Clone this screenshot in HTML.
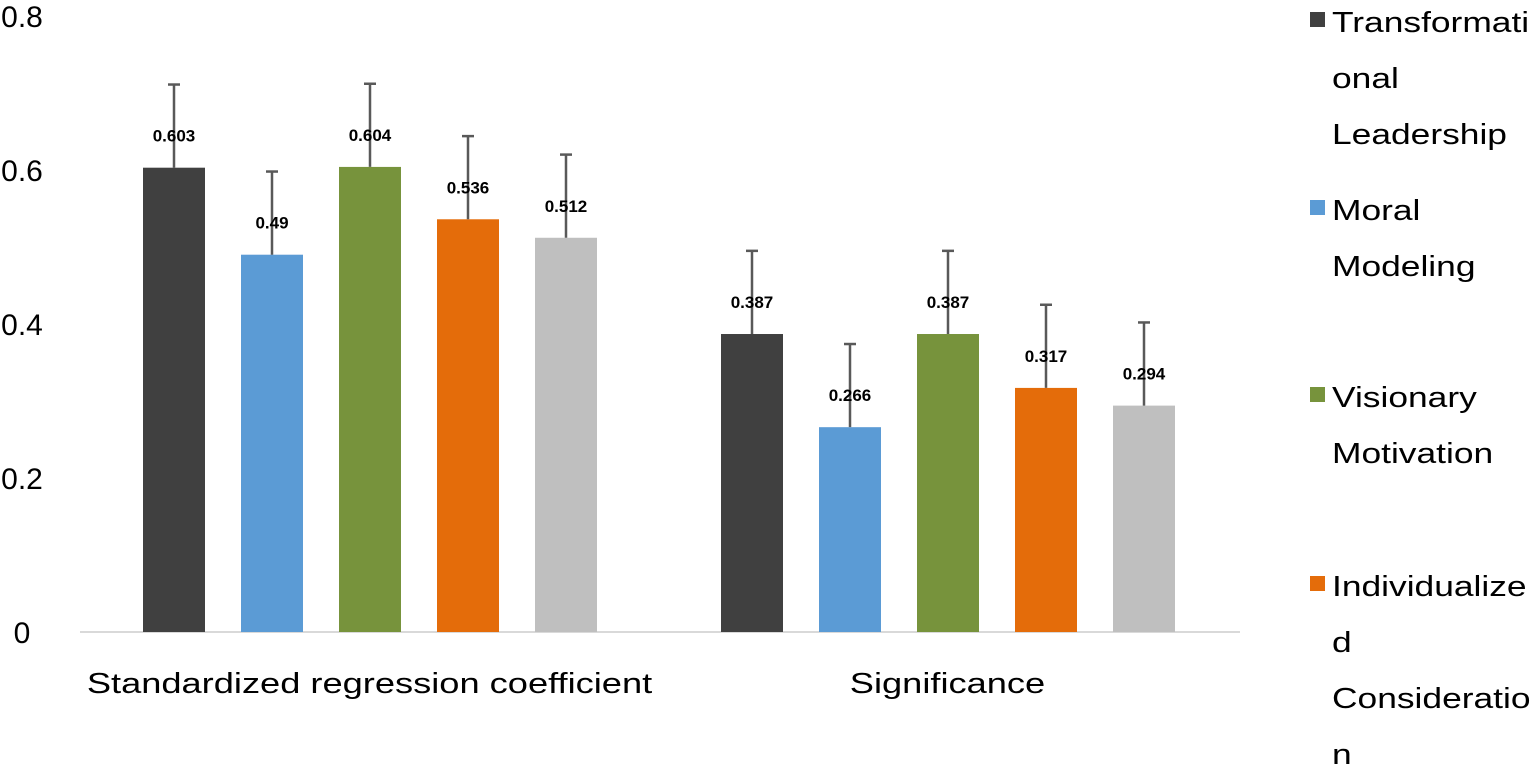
<!DOCTYPE html>
<html><head><meta charset="utf-8"><style>
html,body{margin:0;padding:0;background:#fff;width:1535px;height:769px;overflow:hidden}
svg{display:block;font-family:"Liberation Sans","DejaVu Sans",sans-serif}
</style></head><body>
<svg id="chart" width="1535" height="769" viewBox="0 0 1535 769"></svg>
<script>
const categories = ["Standardized regression coefficient", "Significance"];
const seriesNames = ["Transformational Leadership", "Moral Modeling", "Visionary Motivation", "Individualized Consideration", "Other"];
const seriesTL = [0.603, 0.387];
const seriesMM = [0.49, 0.266];
const seriesVM = [0.604, 0.387];
const seriesIC = [0.536, 0.317];
const seriesG = [0.512, 0.294];
const errorValues = [0.108, 0.108];
const yTicks = [0, 0.2, 0.4, 0.6, 0.8];
const yTickLabels = ["0", "0.2", "0.4", "0.6", "0.8"];
const legendLines = [["Transformati","onal","Leadership"],["Moral","Modeling"],["Visionary","Motivation"],["Individualize","d","Consideratio","n"]];

const svg = document.getElementById('chart');
const NS = "http://www.w3.org/2000/svg";
const colors = ["#404040","#5b9bd5","#77933c","#e46c0a","#bfbfbf"];
const allSeries = [seriesTL, seriesMM, seriesVM, seriesIC, seriesG];
const y = v => 632 - v * 770;
const groupCenter = i => 369.5 + i * 578;
const barX = (g, s) => groupCenter(g) - 226.5 + s * 98;
const barW = 62;
function mk(tag, attrs, parent){const e=document.createElementNS(NS,tag);for(const k in attrs)e.setAttribute(k,attrs[k]);(parent||svg).appendChild(e);return e;}

yTicks.forEach((t,i)=>{
  const e=mk('text',{x:22,y:y(t)+11,'text-anchor':'middle','font-size':30,fill:'#000'});
  e.textContent=yTickLabels[i];
  
  
});
const ax=mk('line',{x1:80,x2:1240,y1:632,y2:632,stroke:'#d9d9d9','stroke-width':2});



allSeries.forEach((ser,s)=>{
  ser.forEach((v,g)=>{
    const x=barX(g,s);
    const r=mk('rect',{x:x,y:y(v),width:barW,height:632-y(v),fill:colors[s]});
    
    
    const cx=x+barW/2, top=y(v+errorValues[g]);
    const l=mk('line',{x1:cx,x2:cx,y1:y(v),y2:top,stroke:'#595959','stroke-width':2.5});
    
    
    const c=mk('line',{x1:cx-6,x2:cx+6,y1:top,y2:top,stroke:'#595959','stroke-width':2.5});
    
    
    const t=mk('text',{x:cx,y:y(v)-26,'text-anchor':'middle','font-size':17,fill:'#000','font-weight':'bold'});
    t.textContent=String(v);
    
    
  });
});
categories.forEach((c,i)=>{
  const gr=mk('g',{transform:'translate('+groupCenter(i)+',693) scale(1.25,1)'});
  const t=mk('text',{x:0,y:0,'text-anchor':'middle','font-size':29,fill:'#000'},gr);
  t.textContent=c;
  
  
});
const legendStart=[32,220,407,596];
legendLines.forEach((lines,i)=>{
  const r=mk('rect',{x:1310,y:legendStart[i]-20,width:15,height:15,fill:colors[i]});
  
  
  lines.forEach((ln,j)=>{
    const gr=mk('g',{transform:'translate(1332,'+(legendStart[i]+j*56)+') scale(1.22,1)'});
    const t=mk('text',{x:0,y:0,'font-size':29,fill:'#000'},gr);
    t.textContent=ln;
    
    
  });
});
</script>
</body></html>
